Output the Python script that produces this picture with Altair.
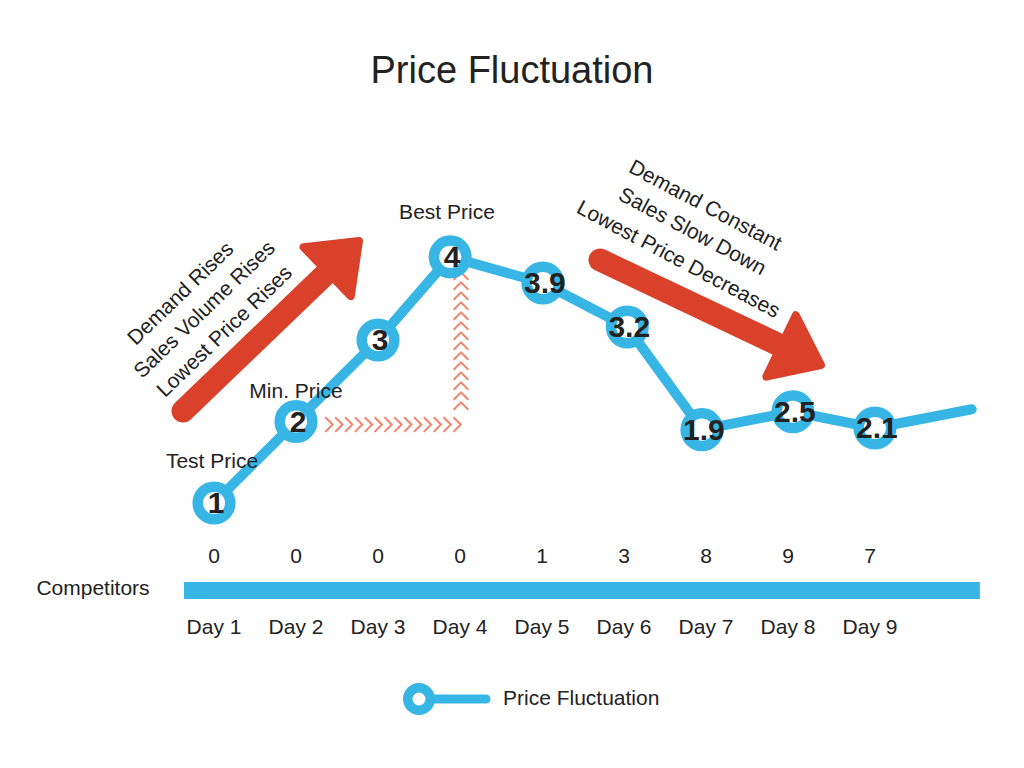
import altair as alt
import pandas as pd

# ---------------- data ----------------
days = ["Day 1", "Day 2", "Day 3", "Day 4", "Day 5", "Day 6", "Day 7", "Day 8", "Day 9"]
day_idx = [1, 2, 3, 4, 5, 6, 7, 8, 9]
competitors = [0, 0, 0, 0, 1, 3, 8, 9, 7]
price_labels = ["1", "2", "3", "4", "3.9", "3.2", "1.9", "2.5", "2.1"]
# line vertices (last vertex has no marker)
line_x = [1, 2, 3, 3.88, 5.01, 6.04, 6.95, 8.06, 9.06, 10.24]
line_y = [1.0, 2.0, 3.0, 4.02, 3.70, 3.16, 1.90, 2.12, 1.92, 2.15]

stage_labels = ["Test Price", "Min. Price", "Best Price"]
stage_x = [0.976, 2.0, 3.841]
stage_y = [1.503, 2.362, 4.558]

rise_lines = ["Demand Rises", "Sales Volume Rises", "Lowest Price Rises"]
rise_x = [0.598, 0.890, 1.134]
rise_y = [3.564, 3.368, 3.098]

fall_lines = ["Demand Constant", "Sales Slow Down", "Lowest Price Decreases"]
fall_x = [6.988, 6.829, 6.659]
fall_y = [4.644, 4.325, 3.982]

BLUE = "#37b5e5"
RED = "#d9412a"
PINK = "#f2836d"
INK = "#222222"
FONT = "Liberation Sans"

X_DOM = [-1.6098, 10.878]
Y_DOM = [-2.2515, 7.1718]
xs = alt.Scale(domain=X_DOM, nice=False, zero=False)
ys = alt.Scale(domain=Y_DOM, nice=False, zero=False)


def X(f="x"):
    return alt.X(f"{f}:Q", scale=xs, axis=None)


def Y(f="y"):
    return alt.Y(f"{f}:Q", scale=ys, axis=None)


# ---------------- tables ----------------
line_df = pd.DataFrame({"x": line_x, "y": line_y, "order": list(range(len(line_x)))})
pts_df = pd.DataFrame({"x": line_x[:9], "y": line_y[:9], "label": price_labels})

bar_df = pd.DataFrame({"x": [0.634], "x2": [10.34], "y": [-0.074]})

shaft_df = pd.DataFrame({"x": [0.622, 5.707], "y": [2.129, 3.982],
                         "x2": [2.476, 8.024], "y2": [3.92, 2.877]})
head_df = pd.DataFrame({"x": [2.768, 8.402], "y": [4.215, 2.693], "angle": [46.0, 115.6]})

# chevron decoration (two dotted guides from "Min. Price" to "Best Price")
chev_rows = []
for k in range(14):
    chev_rows.append({"x": (329 + 9.85 * k - 132) / 82, "y": 1 + (503 - 424.5) / 81.5, "angle": 0})
for k in range(14):
    chev_rows.append({"x": 4.012, "y": 1 + (503 - (406 - 10 * k)) / 81.5, "angle": 270})
chev_df = pd.DataFrame(chev_rows)

ann_rows = []
ann_rows.append({"x": 4.634, "y": 6.288, "text": "Price Fluctuation", "angle": 0, "fs": 38})
for t, x, y in zip(stage_labels, stage_x, stage_y):
    ann_rows.append({"x": x, "y": y, "text": t, "angle": 0, "fs": 21})
for t, x, y in zip(rise_lines, rise_x, rise_y):
    ann_rows.append({"x": x, "y": y, "text": t, "angle": 316, "fs": 21})
for t, x, y in zip(fall_lines, fall_x, fall_y):
    ann_rows.append({"x": x, "y": y, "text": t, "angle": 28, "fs": 21})
for d, c in zip(day_idx, competitors):
    ann_rows.append({"x": d, "y": 0.337, "text": str(c), "angle": 0, "fs": 21})
for d, name in zip(day_idx, days):
    ann_rows.append({"x": d, "y": -0.534, "text": name, "angle": 0, "fs": 21})
ann_rows.append({"x": -0.476, "y": -0.055, "text": "Competitors", "angle": 0, "fs": 21})
ann_df = pd.DataFrame(ann_rows)

leg_line_df = pd.DataFrame({"x": [3.5], "x2": [4.317], "y": [-1.405]})
leg_pt_df = pd.DataFrame({"x": [3.5], "y": [-1.405]})
leg_txt_df = pd.DataFrame({"x": [4.524], "y": [-1.405], "text": ["Price Fluctuation"]})

HEAD = "M0,0L1,1.3L-1,1.3Z"
CHEV = "M-0.5,-1L0.5,0L-0.5,1"

# ---------------- layers ----------------
bar = alt.Chart(bar_df).mark_rule(color=BLUE, strokeWidth=17, strokeCap="butt").encode(
    x=X(), x2="x2:Q", y=Y())

shafts = alt.Chart(shaft_df).mark_rule(color=RED, strokeWidth=23, strokeCap="round").encode(
    x=X(), y=Y(), x2="x2:Q", y2="y2:Q")

heads = alt.Chart(head_df).mark_point(
    shape=HEAD, filled=True, fill=RED, stroke=RED, strokeWidth=8, strokeJoin="round",
    size=4624, opacity=1).encode(x=X(), y=Y(), angle=alt.Angle("angle:Q", scale=None))

chevs = alt.Chart(chev_df).mark_point(
    shape=CHEV, filled=False, stroke=PINK, strokeWidth=2, size=215, opacity=1).encode(
    x=X(), y=Y(), angle=alt.Angle("angle:Q", scale=None))

line = alt.Chart(line_df).mark_line(color=BLUE, strokeWidth=10, strokeCap="round",
                                    strokeJoin="round").encode(
    x=X(), y=Y(), order="order:Q")

pts = alt.Chart(pts_df).mark_point(filled=True, fill="white", stroke=BLUE, strokeWidth=10.5,
                                   size=1060, opacity=1).encode(x=X(), y=Y())

labels = alt.Chart(pts_df).mark_text(font=FONT, fontSize=30, fontWeight="bold", color=INK,
                                     align="center", baseline="middle", dx=2, dy=1).encode(
    x=X(), y=Y(), text="label:N")

ann = alt.Chart(ann_df).mark_text(font=FONT, color=INK, align="center", baseline="middle").encode(
    x=X(), y=Y(), text="text:N",
    angle=alt.Angle("angle:Q", scale=None), size=alt.Size("fs:Q", scale=None))

leg_line = alt.Chart(leg_line_df).mark_rule(color=BLUE, strokeWidth=9, strokeCap="round").encode(
    x=X(), x2="x2:Q", y=Y())
leg_pt = alt.Chart(leg_pt_df).mark_point(filled=True, fill="white", stroke=BLUE, strokeWidth=9.5,
                                         size=506, opacity=1).encode(x=X(), y=Y())
leg_txt = alt.Chart(leg_txt_df).mark_text(font=FONT, fontSize=21, color=INK, align="left",
                                          baseline="middle").encode(x=X(), y=Y(), text="text:N")

chart = alt.layer(bar, shafts, heads, chevs, line, pts, labels, ann, leg_line, leg_pt, leg_txt).properties(
    width=1024, height=768, autosize=alt.AutoSizeParams(type="none"), padding=0,
    background="white").configure_view(stroke=None)

chart.save("out.html", embed_options={"renderer": "svg", "actions": False})
